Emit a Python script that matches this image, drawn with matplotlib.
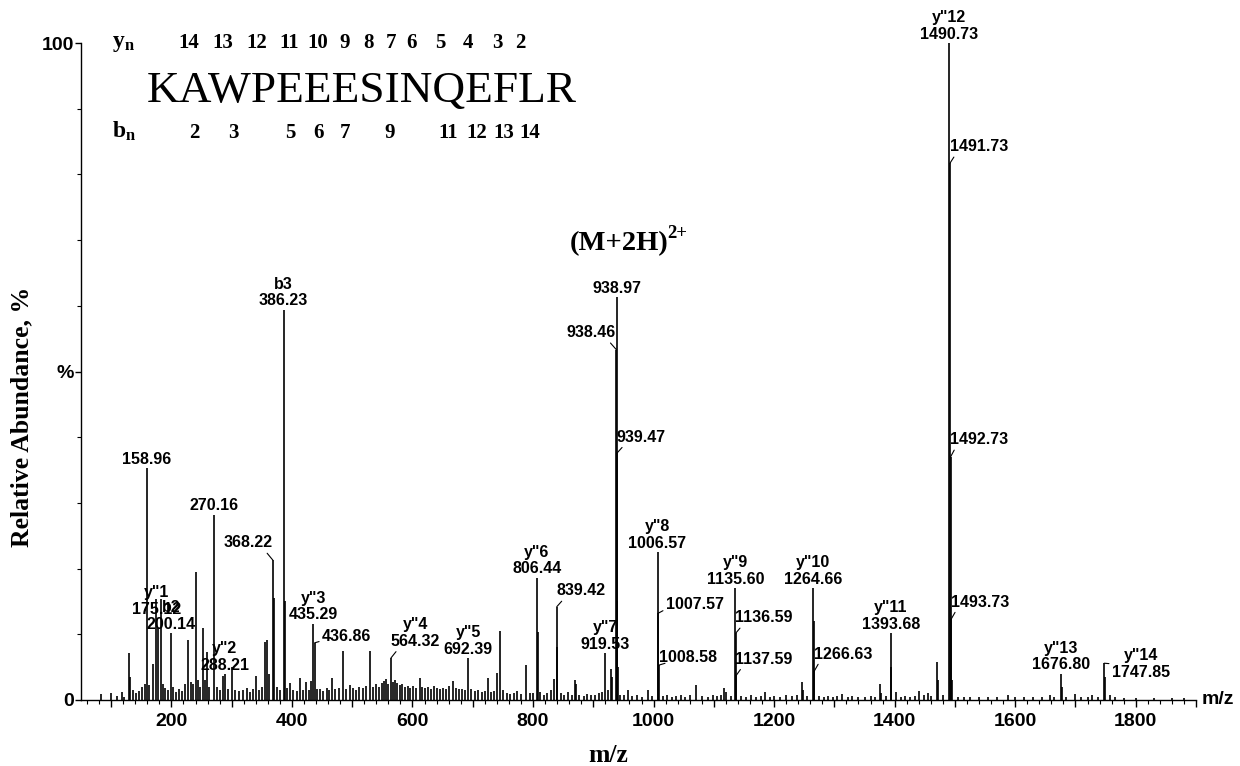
import matplotlib
matplotlib.use("Agg")
import matplotlib.pyplot as plt
from matplotlib.ticker import MultipleLocator, FuncFormatter, FixedLocator

# spectrum sticks (m/z, relative abundance %)
mz = [84, 100, 110, 118, 122, 129, 132, 136, 141, 147, 152, 156, 158.96, 163, 170,
      175.12, 178.5, 182.0, 186, 190, 195, 200.14, 203, 208, 213, 218, 222, 227, 232,
      236, 240, 244, 248, 252, 255, 258.5, 263, 270.16, 275, 280, 285, 288.21, 294,
      301, 306, 312, 318, 325, 330, 336, 341, 346, 350, 356, 358, 362, 368.22, 370,
      375, 380, 386.23, 388, 392, 397, 402, 408, 413, 418, 424, 428, 431, 435.29,
      437.6, 442, 447, 452, 458, 462, 467, 472, 478, 485, 490, 497, 502, 507, 512,
      518, 523, 530, 535, 540, 545, 549, 552, 556, 560, 564.32, 568, 571, 575, 579,
      583, 588, 592, 596, 601, 606, 612, 616, 621, 626, 631, 636, 641, 646, 651, 656,
      661, 667, 672, 677, 682, 687, 692.39, 697, 703, 709, 715, 720, 725, 731, 736,
      741, 745, 750, 756, 762, 768, 774, 780, 789, 795, 800, 806.44, 807.5, 812, 818,
      824, 830, 834, 839.42, 840.5, 846, 852, 858, 864, 870, 871.5, 877, 884, 890,
      897, 903, 910, 915, 919.53, 925, 930, 931.5, 938.46, 938.97, 939.47, 939.97,
      940.47, 945, 951, 958, 965, 972, 980, 990, 997, 1006.57, 1007.57, 1008.58,
      1015, 1022, 1030, 1038, 1045, 1052, 1060, 1071, 1080, 1090, 1098, 1105, 1112,
      1117, 1120, 1128, 1135.60, 1136.59, 1137.59, 1145, 1153, 1162, 1170, 1178,
      1185, 1193, 1200, 1210, 1220, 1230, 1238, 1246, 1248, 1255, 1264.66, 1265.6,
      1266.63, 1275, 1283, 1290, 1298, 1305, 1313, 1322, 1330, 1340, 1350, 1360,
      1368, 1375, 1377, 1385, 1393.68, 1394.7, 1403, 1410, 1418, 1425, 1433, 1441,
      1448, 1455, 1460, 1471, 1472, 1480, 1490.73, 1491.73, 1492.73, 1493.73,
      1494.7, 1505, 1515, 1525, 1540, 1555, 1570, 1588, 1600, 1615, 1630, 1645,
      1658, 1665, 1676.80, 1677.8, 1685, 1699, 1710, 1720, 1728, 1738, 1747.85,
      1748.85, 1757, 1765, 1780, 1800, 1830, 1860, 1880]
rel = [0.9, 1.0, 0.6, 1.2, 0.5, 7.2, 3.5, 1.5, 1.0, 1.3, 2.0, 2.5, 35.3, 2.3, 5.5,
       15.4, 11.0, 15.4, 2.5, 1.8, 1.5, 10.2, 2.0, 1.2, 1.6, 1.4, 2.5, 9.1, 2.8,
       2.5, 19.5, 3.0, 2.0, 11.0, 3.0, 7.3, 2.0, 28.2, 2.0, 1.5, 3.7, 3.9, 1.6,
       5.0, 1.5, 1.3, 1.5, 1.8, 1.2, 1.6, 3.7, 1.5, 2.0, 8.9, 9.1, 4.0, 21.3, 15.5,
       2.0, 1.5, 59.4, 15.0, 1.8, 2.6, 1.5, 1.4, 3.3, 1.5, 2.8, 1.5, 2.9, 11.6,
       8.7, 1.6, 1.7, 1.4, 1.8, 1.5, 3.3, 1.6, 1.8, 7.4, 1.7, 2.3, 1.8, 1.5, 2.0,
       1.8, 2.2, 7.5, 2.0, 2.4, 2.0, 2.6, 2.9, 3.2, 2.5, 6.4, 2.8, 3.1, 2.6, 2.3,
       2.4, 2.0, 2.2, 1.9, 2.1, 1.9, 3.3, 2.0, 1.8, 2.0, 1.7, 2.1, 1.8, 1.6, 1.9, 1.7,
       2.2, 2.9, 1.8, 1.6, 1.7, 1.5, 6.4, 1.6, 1.4, 1.5, 1.2, 1.4, 3.3, 1.2, 1.3,
       4.1, 10.5, 1.5, 1.0, 0.9, 1.1, 1.4, 0.9, 5.3, 1.0, 1.1, 18.6, 10.3, 1.2, 0.8,
       1.0, 1.5, 3.2, 14.2, 8.0, 1.0, 0.8, 1.2, 0.7, 3.0, 2.5, 0.8, 0.6, 0.9,
       0.7, 0.8, 1.0, 1.2, 7.1, 1.5, 4.7, 3.5, 53.3, 61.3, 37.6, 15.0,
       5.0, 0.8, 0.7, 1.5, 0.6, 0.7, 0.5, 1.5, 0.6, 22.5, 13.2, 5.3,
       0.6, 0.7, 0.5, 0.6, 0.8, 0.5, 0.7, 2.3, 0.6, 0.5, 0.7, 0.6, 0.8,
       1.9, 1.2, 0.6, 17.0, 10.2, 3.8, 0.6, 0.5, 0.7, 0.5, 0.6,
       1.2, 0.5, 0.6, 0.5, 0.7, 0.6, 0.8, 2.7, 1.5, 0.6, 17.0, 12.0,
       4.4, 0.6, 0.5, 0.6, 0.5, 0.6, 0.9, 0.5, 0.6, 0.5, 0.4, 0.6,
       0.5, 2.5, 1.0, 0.6, 10.2, 5.0, 1.2, 0.5, 0.6, 0.5, 0.6, 1.3,
       0.7, 1.0, 0.6, 5.8, 3.0, 0.8, 100.0, 81.7, 37.0, 12.3,
       3.0, 0.5, 0.4, 0.5, 0.4, 0.5, 0.4, 0.7, 0.4, 0.5, 0.4, 0.5,
       0.8, 0.5, 4.0, 2.0, 0.5, 0.9, 0.4, 0.5, 0.7, 0.5, 5.6,
       3.5, 0.7, 0.4, 0.3, 0.3, 0.3, 0.3, 0.3]

# labels sitting straight above their peak
top_text = ['y"12\n1490.73', '938.97', 'b3\n386.23', '158.96', '270.16',
            'y"6\n806.44', 'y"8\n1006.57', 'y"9\n1135.60', 'y"10\n1264.66',
            'y"11\n1393.68', 'y"13\n1676.80', 'y"7\n919.53', 'y"5\n692.39',
            'y"3\n435.29', 'b2\n200.14', 'y"2\n288.21']
top_mz = [1490.73, 938.97, 386.23, 158.96, 270.16, 806.44, 1006.57, 1135.60,
          1264.66, 1393.68, 1676.80, 919.53, 692.39, 435.29, 200.14, 288.21]
top_int = [100.0, 61.3, 59.4, 35.3, 28.2, 18.6, 22.5, 17.0, 17.0, 10.2, 4.0,
           7.1, 6.4, 11.6, 10.2, 3.9]

# labels moved aside, joined to the peak by a short line
side_text = ['368.22', '938.46', '939.47', '1007.57', '1008.58', '1136.59',
             '1137.59', '1266.63', '1491.73', '1492.73', '1493.73', '436.86',
             'y"4\n564.32', '839.42', 'y"14\n1747.85']
side_mz = [368.22, 938.46, 939.47, 1007.57, 1008.58, 1136.59, 1137.59, 1266.63,
           1491.73, 1492.73, 1493.73, 437.6, 564.32, 839.42, 1747.85]
side_int = [21.3, 53.3, 37.6, 13.2, 5.3, 10.2, 3.8, 4.4, 81.7, 37.0, 12.3, 8.7,
            6.4, 14.2, 5.6]
side_tx = [326.5, 896.7, 979.6, 1068.3, 1057.5, 1183.5, 1183.5, 1314.4, 1539.9,
           1539.9, 1541.5, 490.6, 605.0, 880.2, 1808.4]
side_ty = [23.9, 55.9, 40.0, 14.5, 6.5, 12.5, 6.2, 7.0, 84.2, 39.6, 14.9, 9.7,
           10.2, 16.6, 5.5]
side_rel = [(0.85, 0), (0.84, 0), (0.16, 0), (0.0, 0.2), (0.1, 0.1), (0.12, 0),
            (0.12, 0), (0.1, 0), (0.1, 0), (0.1, 0), (0.1, 0), (0.0, 0.2),
            (0.15, 0), (0.15, 0), (0.0, 0.5)]

# sequence annotation
peptide = "KAWPEEESINQEFLR"
y_ions = ["14", "13", "12", "11", "10", "9", "8", "7", "6", "5", "4", "3", "2"]
y_pos = [189, 223, 257, 289, 318, 345, 368, 391, 411, 440, 468, 497, 520]
b_ions = ["2", "3", "5", "6", "7", "9", "11", "12", "13", "14"]
b_pos = [194, 233, 290, 318, 345, 390, 448, 477, 504, 530]

plt.rcParams['font.family'] = 'Liberation Sans'
plt.rcParams['font.weight'] = 'bold'
plt.rcParams['mathtext.fontset'] = 'custom'
plt.rcParams['mathtext.rm'] = 'Liberation Serif'
plt.rcParams['mathtext.bf'] = 'Liberation Serif:bold'
plt.rcParams['mathtext.it'] = 'Liberation Serif:italic'

W, H = 1240, 766
fig = plt.figure(figsize=(W / 100, H / 100), dpi=100)
ax = fig.add_axes([81 / W, 1 - 700 / H, (1196 - 81) / W, (700 - 43) / H])


def fpx(x, y):
    return x / W, 1 - y / H


ax.vlines(mz, 0, rel, colors='black', linewidth=1.2)
ax.set_xlim(50, 1900)
ax.set_ylim(0, 100)
for s in ['top', 'right']:
    ax.spines[s].set_visible(False)
ax.spines['left'].set_linewidth(1.0)
ax.spines['bottom'].set_linewidth(1.0)

ax.xaxis.set_major_locator(MultipleLocator(100))
ax.xaxis.set_minor_locator(MultipleLocator(20))
ax.xaxis.set_major_formatter(FuncFormatter(lambda v, p: f"{v:.0f}" if v % 200 == 0 else ""))
ax.yaxis.set_major_locator(FixedLocator([0, 50, 100]))
ax.set_yticklabels(['0', '%', '100'])
ax.yaxis.set_minor_locator(MultipleLocator(10))
ax.tick_params(axis='x', which='major', length=5, width=1, pad=4, labelsize=14)
ax.tick_params(axis='x', which='minor', length=3, width=0.8)
ax.tick_params(axis='y', which='major', length=4, width=1, pad=1, labelsize=14)
ax.tick_params(axis='y', which='minor', length=3, width=0.8)

lab_font = dict(family='Liberation Sans', weight='bold', size=11.5)
for t, x, y in zip(top_text, top_mz, top_int):
    ax.annotate(t, xy=(x, y), xytext=(0, 1), textcoords='offset points',
                ha='center', va='bottom', annotation_clip=False,
                linespacing=1.15, **lab_font)

# y"1 label overlaps its peaks (and the b2 label), as in the source
ax.annotate('y"1\n175.12', xy=(175.7, 15.1), ha='center', va='center',
            linespacing=1.15, **lab_font)

for t, x, y, tx, ty, rp in zip(side_text, side_mz, side_int, side_tx, side_ty, side_rel):
    ax.annotate(t, xy=(x, y), xytext=(tx, ty), textcoords='data',
                ha='center', va='center', linespacing=1.15, annotation_clip=False,
                arrowprops=dict(arrowstyle='-', color='black', lw=0.8,
                                shrinkA=0, shrinkB=0, relpos=rp),
                **lab_font)

serif_b = dict(family='Liberation Serif', weight='bold')
fig.text(*fpx(112, 47), r'$\mathbf{y_n}$', fontsize=17, ha='left', va='baseline')
fig.text(*fpx(112, 138), r'$\mathbf{b_n}$', fontsize=17, ha='left', va='baseline')
for t, x in zip(y_ions, y_pos):
    fig.text(*fpx(x, 48), t, fontsize=15, ha='center', va='baseline', **serif_b)
for t, x in zip(b_ions, b_pos):
    fig.text(*fpx(x, 138), t, fontsize=15, ha='center', va='baseline', **serif_b)
fig.text(*fpx(147, 102), peptide, fontsize=32.7, ha='left', va='baseline',
         family='Liberation Serif', weight='normal')
fig.text(*fpx(570, 250), '(M+2H)', fontsize=20.5, ha='left', va='baseline', **serif_b)
fig.text(*fpx(667, 238), '2+', fontsize=13.5, ha='left', va='baseline', **serif_b)

fig.text(*fpx(1202, 700), 'm/z', fontsize=14, ha='left', va='center',
         family='Liberation Sans', weight='bold')
fig.text(*fpx(608, 755), 'm/z', fontsize=18.5, ha='center', va='center', **serif_b)
fig.text(*fpx(22, 417), 'Relative Abundance, %', fontsize=18.5, rotation=90,
         ha='center', va='center', **serif_b)

fig.savefig('out.png', dpi=100)
